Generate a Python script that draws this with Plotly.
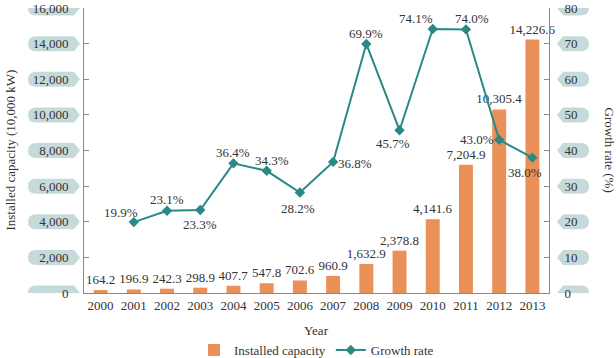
import plotly.graph_objects as go

years = [str(y) for y in range(2000, 2014)]
capacity = [164.2, 196.9, 242.3, 298.9, 407.7, 547.8, 702.6, 960.9, 1632.9,
            2378.8, 4141.6, 7204.9, 10305.4, 14226.6]
growth = [None, 19.9, 23.1, 23.3, 36.4, 34.3, 28.2, 36.8, 69.9, 45.7,
          74.1, 74.0, 43.0, 38.0]
left_ticks = [0, 2000, 4000, 6000, 8000, 10000, 12000, 14000, 16000]
right_ticks = [0, 10, 20, 30, 40, 50, 60, 70, 80]

# label offsets (style) for growth labels, in pixels
lab_dx = [0, -13, 0, 0, 0, 5, -2, 22, 0, -7, -17, 6, -22, -7]
lab_dy = [0, 10, 11, -15, 11, 10, -16, -2, 10, -13, 11, 11, 0, -15]

FONT = "Liberation Serif"
ORANGE = "#EA9159"
TEAL = "#2A8985"
PILL = "#C6DADA"
AXC = "#8a8a8a"

fig = go.Figure()
fig.add_trace(go.Bar(
    x=years, y=capacity, name="Installed capacity",
    marker=dict(color=ORANGE, line=dict(width=0)),
    texttemplate="%{y:,.1f}", textposition="outside", cliponaxis=False,
    constraintext="none",
    textfont=dict(family=FONT, size=13, color="#333"),
))
fig.add_trace(go.Scatter(
    x=years, y=growth, name="Growth rate", yaxis="y2", mode="lines+markers",
    line=dict(color=TEAL, width=2),
    marker=dict(symbol="diamond", size=8, color=TEAL),
))

for i, g in enumerate(growth):
    if g is None:
        continue
    fig.add_annotation(x=i, y=g, xref="x", yref="y2", text=f"{g:.1f}%", showarrow=False,
                       xshift=lab_dx[i], yshift=lab_dy[i],
                       font=dict(family=FONT, size=13, color="#333"))

shapes = []
for t in left_ticks:
    shapes.append(dict(type="path", xref="paper", yref="y", xsizemode="pixel",
                       ysizemode="pixel", xanchor=0, yanchor=t,
                       path="M -4 0 L -10 7.5 L -48 7.5 Q -56 7.5 -56 0 Q -56 -7.5 -48 -7.5 L -10 -7.5 Z",
                       fillcolor=PILL, line=dict(width=0), layer="below"))
for t in right_ticks:
    shapes.append(dict(type="path", xref="paper", yref="y2", xsizemode="pixel",
                       ysizemode="pixel", xanchor=1, yanchor=t,
                       path="M 8 0 L 14 7.5 L 32 7.5 Q 40 7.5 40 0 Q 40 -7.5 32 -7.5 L 14 -7.5 Z",
                       fillcolor=PILL, line=dict(width=0), layer="below"))

fig.add_annotation(x=0.5, y=-0.13, xref="paper", yref="paper", text="Year",
                   xanchor="center", yanchor="middle",
                   showarrow=False, font=dict(family=FONT, size=13, color="#333"))
fig.add_annotation(x=-0.159, y=0.5, xref="paper", yref="paper",
                   text="Installed capacity (10,000 kW)", textangle=-90,
                   xanchor="center", yanchor="middle",
                   showarrow=False, font=dict(family=FONT, size=13, color="#333"))
fig.add_annotation(x=1.131, y=0.5, xref="paper", yref="paper",
                   text="Growth rate (%)", textangle=90,
                   xanchor="center", yanchor="middle",
                   showarrow=False, font=dict(family=FONT, size=13, color="#333"))

fig.update_layout(
    width=616, height=358,
    margin=dict(l=84, r=67, t=8, b=65, autoexpand=False),
    paper_bgcolor="white", plot_bgcolor="white",
    font=dict(family=FONT, size=13, color="#333"),
    bargap=0.58,
    shapes=shapes,
    showlegend=True,
    legend=dict(orientation="h", x=0.5, xanchor="center", y=-0.2,
                yanchor="middle", font=dict(family=FONT, size=13, color="#333"),
                itemwidth=30),
    xaxis=dict(type="category", range=[-0.5, len(years) - 0.5], showline=True,
               linecolor=AXC, linewidth=1, automargin=False,
               ticks="", showgrid=False, tickfont=dict(family=FONT, size=13)),
    yaxis=dict(range=[0, 16000], tickvals=left_ticks, ticktext=[f"{v:,}" for v in left_ticks],
               showline=True, linecolor=AXC, linewidth=1, ticks="inside",
               ticklen=5, tickcolor=AXC, showgrid=False, zeroline=False, automargin=False,
               ticklabelstandoff=12, tickfont=dict(family=FONT, size=13)),
    yaxis2=dict(range=[0, 80], tickvals=right_ticks, overlaying="y", side="right",
                showline=True, linecolor=AXC, linewidth=1, ticks="inside",
                ticklen=5, tickcolor=AXC, showgrid=False, zeroline=False, automargin=False,
                ticklabelstandoff=12, tickfont=dict(family=FONT, size=13)),
)

fig.write_html("out.html", config={"displayModeBar": False},
               post_script="document.body.style.margin='0';document.body.style.overflow='hidden';")
